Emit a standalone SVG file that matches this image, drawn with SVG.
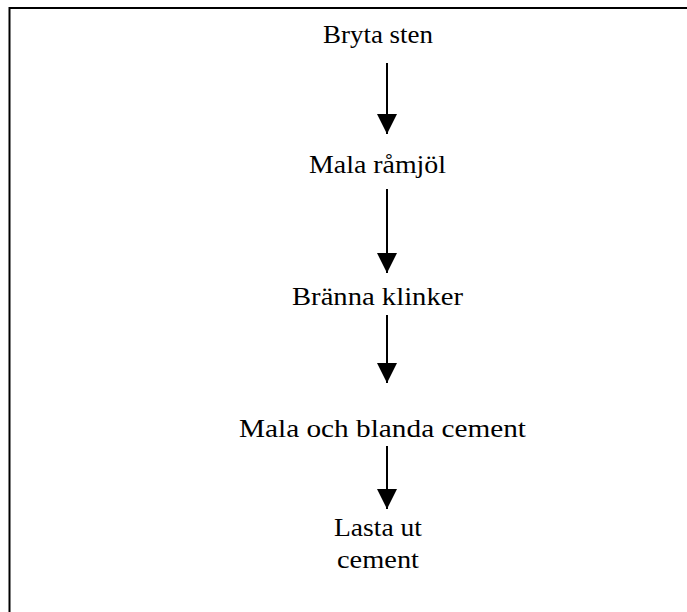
<svg xmlns="http://www.w3.org/2000/svg" width="687" height="612" viewBox="0 0 687 612">
  <style>
    .lbl { font-family: "Liberation Serif", "Times New Roman", serif; font-size: 26px; fill: #000; }
    .conn { stroke: #000; stroke-width: 2; fill: none; }
    .frame { stroke: #000; stroke-width: 2; fill: none; }
  </style>
  <defs>
    <marker id="arrow" viewBox="0 0 20 20" refX="20" refY="10" markerWidth="20" markerHeight="20" markerUnits="userSpaceOnUse" orient="auto">
      <path d="M0,0 L20,10 L0,20 z" fill="#000"/>
    </marker>
  </defs>
  <rect width="687" height="612" fill="#fff"/>
  <path class="frame" d="M9.5,612 V8 H687"/>
  <g id="connectors">
    <line class="conn" x1="387" y1="63" x2="387" y2="134" marker-end="url(#arrow)"/>
    <line class="conn" x1="387" y1="189" x2="387" y2="273" marker-end="url(#arrow)"/>
    <line class="conn" x1="387" y1="315" x2="387" y2="383" marker-end="url(#arrow)"/>
    <line class="conn" x1="387" y1="446" x2="387" y2="509" marker-end="url(#arrow)"/>
  </g>
  <g id="n1"><text class="lbl" x="323" y="43" textLength="110" lengthAdjust="spacingAndGlyphs">Bryta sten</text></g>
  <g id="n2"><text class="lbl" x="309" y="173" textLength="137" lengthAdjust="spacingAndGlyphs">Mala råmjöl</text></g>
  <g id="n3"><text class="lbl" x="292" y="305" textLength="171" lengthAdjust="spacingAndGlyphs">Bränna klinker</text></g>
  <g id="n4"><text class="lbl" x="239" y="437" textLength="287" lengthAdjust="spacingAndGlyphs">Mala och blanda cement</text></g>
  <g id="n5">
    <text class="lbl" x="334" y="536" textLength="88" lengthAdjust="spacingAndGlyphs">Lasta ut</text>
    <text class="lbl" x="337" y="568" textLength="82" lengthAdjust="spacingAndGlyphs">cement</text>
  </g>
</svg>
